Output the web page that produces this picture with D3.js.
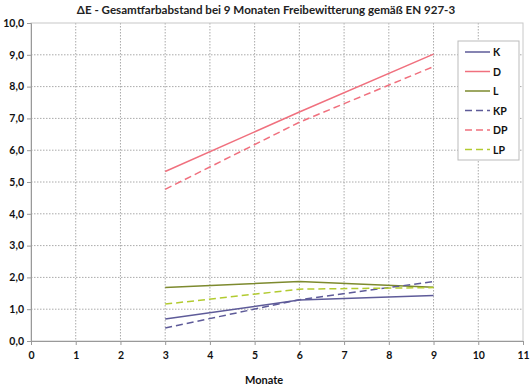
<!DOCTYPE html>
<html>
<head>
<meta charset="utf-8">
<script src="https://cdn.jsdelivr.net/npm/d3@7"></script>
<style>
  body { margin: 0; background: #fff; }
  text { font-family: Lato, "Open Sans", sans-serif; }
</style>
</head>
<body>
<div id="chart"></div>
<script>
const monate = [3, 6, 9];
const seriesNames = ['K', 'D', 'L', 'KP', 'DP', 'LP'];
const valK  = [0.69, 1.29, 1.43];
const valD  = [5.33, 7.20, 9.02];
const valL  = [1.68, 1.87, 1.69];
const valKP = [0.41, 1.30, 1.87];
const valDP = [4.77, 6.88, 8.63];
const valLP = [1.16, 1.63, 1.68];
const xTicks = [0, 1, 2, 3, 4, 5, 6, 7, 8, 9, 10, 11];
const yTicks = [0, 1, 2, 3, 4, 5, 6, 7, 8, 9, 10];

const width = 532, height = 389;
const margin = {left: 31, right: 9, top: 23, bottom: 48};

const series = [
  {name: 'K',  values: valK,  color: '#5e5b99', dash: null},
  {name: 'D',  values: valD,  color: '#f0707e', dash: null},
  {name: 'L',  values: valL,  color: '#7d8a2e', dash: null},
  {name: 'KP', values: valKP, color: '#5e5b99', dash: '7,4'},
  {name: 'DP', values: valDP, color: '#f0707e', dash: '7,4'},
  {name: 'LP', values: valLP, color: '#b2cb30', dash: '7,4'}
];

const svg = d3.select('#chart').append('svg')
  .attr('width', width).attr('height', height);

const x = d3.scaleLinear().domain([0, 11]).range([margin.left, width - margin.right]);
const y = d3.scaleLinear().domain([0, 10]).range([height - margin.bottom, margin.top]);

// title
svg.append('text')
  .attr('x', 266).attr('y', 14)
  .attr('text-anchor', 'middle')
  .attr('font-size', 11.6).attr('font-weight', 'bold')
  .attr('fill', '#222')
  .text('ΔE - Gesamtfarbabstand bei 9 Monaten Freibewitterung gemäß EN 927-3');

// grid
svg.append('g').selectAll('line')
  .data(yTicks.slice(1, -1)).enter().append('line')
  .attr('x1', margin.left).attr('x2', width - margin.right)
  .attr('y1', d => y(d)).attr('y2', d => y(d))
  .attr('stroke', '#aaa').attr('stroke-dasharray', '1.5,1.5');
svg.append('g').selectAll('line')
  .data(xTicks.slice(1, -1)).enter().append('line')
  .attr('x1', d => x(d)).attr('x2', d => x(d))
  .attr('y1', margin.top).attr('y2', height - margin.bottom)
  .attr('stroke', '#aaa').attr('stroke-dasharray', '1.5,1.5');

// plot border
svg.append('rect')
  .attr('x', margin.left).attr('y', margin.top)
  .attr('width', width - margin.left - margin.right)
  .attr('height', height - margin.top - margin.bottom)
  .attr('fill', 'none').attr('stroke', '#c8c8c8');

// axes
const yAxis = svg.append('g')
  .attr('transform', 'translate(' + margin.left + ',0)')
  .call(d3.axisLeft(y).tickValues(yTicks).tickSize(4).tickFormat(d => d3.format('.1f')(d).replace('.', ',')));
const xAxis = svg.append('g')
  .attr('transform', 'translate(0,' + (height - margin.bottom) + ')')
  .call(d3.axisBottom(x).tickValues(xTicks).tickSize(4).tickPadding(7));
[xAxis, yAxis].forEach(function(g){
  g.select('.domain').attr('stroke', '#999');
  g.selectAll('.tick line').attr('stroke', '#999');
  g.selectAll('.tick text')
    .attr('font-size', 10.5).attr('font-weight', 'bold').attr('fill', '#111')
    .style('font-family', 'Lato, sans-serif');
});
yAxis.selectAll('.tick text').attr('x', -7);

svg.append('text')
  .attr('x', 264).attr('y', 384)
  .attr('text-anchor', 'middle')
  .attr('font-size', 11).attr('font-weight', 'bold').attr('fill', '#111')
  .text('Monate');

// lines
const line = d3.line()
  .x((d, i) => x(monate[i]))
  .y(d => y(d));

svg.append('g').selectAll('path')
  .data(series).enter().append('path')
  .attr('d', d => line(d.values))
  .attr('fill', 'none')
  .attr('stroke', d => d.color)
  .attr('stroke-width', 1.5)
  .attr('stroke-dasharray', d => d.dash);

// legend
const lg = svg.append('g').attr('transform', 'translate(458,41)');
lg.append('rect')
  .attr('width', 61).attr('height', 119)
  .attr('fill', '#fff').attr('stroke', '#bbb');
const item = lg.selectAll('.item')
  .data(series).enter().append('g')
  .attr('class', 'item')
  .attr('transform', (d, i) => 'translate(0,' + (11 + i * 19.5) + ')');
item.append('line')
  .attr('x1', 7).attr('x2', 32)
  .attr('stroke', d => d.color)
  .attr('stroke-width', 1.5)
  .attr('stroke-dasharray', d => d.dash);
item.append('text')
  .attr('x', 35).attr('y', 4)
  .attr('font-size', 10.5).attr('font-weight', 'bold').attr('fill', '#111')
  .text(d => d.name);
</script>
</body>
</html>
